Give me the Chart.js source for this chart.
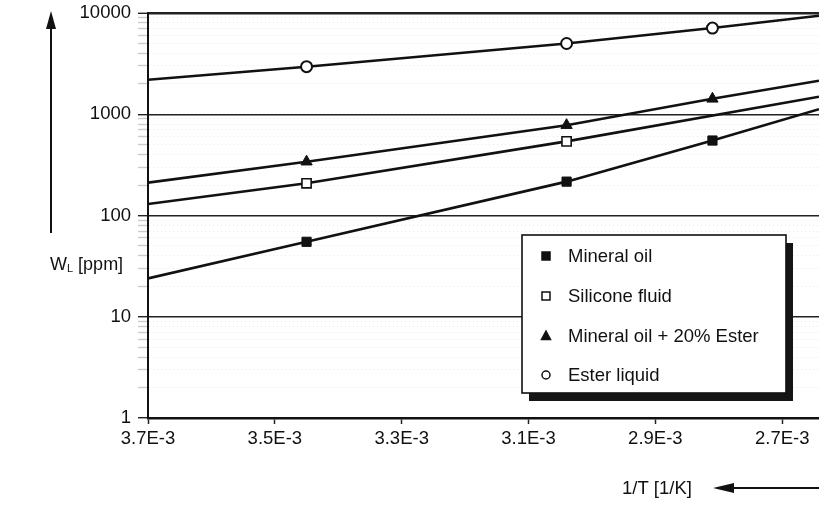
<!DOCTYPE html>
<html><head><meta charset="utf-8">
<script src="https://cdn.jsdelivr.net/npm/chart.js"></script>
<style>html,body{margin:0;padding:0;background:#fff}canvas{display:block}</style>
</head><body>
<canvas id="c" width="819" height="506"></canvas>
<script>
const seriesNames = ['Mineral oil', 'Silicone fluid', 'Mineral oil + 20% Ester', 'Ester liquid'];
const inverseTemp = [3.45e-3, 3.04e-3, 2.81e-3];
const mineralOil = [55, 216, 550];
const siliconeFluid = [208, 540, null];
const mineralOilEster = [340, 780, 1420];
const esterLiquid = [2950, 5000, 7100];
const curveInverseTemp = [3.7e-3, 3.45e-3, 3.04e-3, 2.81e-3, 2.642e-3];
const mineralOilCurve = [23.9, 55, 216, 550, 1120];
const siliconeFluidCurve = [130, 208, 540, null, 1490];
const mineralOilEsterCurve = [211, 340, 780, 1420, 2140];
const esterLiquidCurve = [2190, 2950, 5000, 7100, 9400];
const xTickValues = [3.7e-3, 3.5e-3, 3.3e-3, 3.1e-3, 2.9e-3, 2.7e-3];
const xTickLabels = ['3.7E-3', '3.5E-3', '3.3E-3', '3.1E-3', '2.9E-3', '2.7E-3'];
const yTickValues = [1, 10, 100, 1000, 10000];
const yTickLabels = ['1', '10', '100', '1000', '10000'];
const yAxisTitle = ['W', 'L', ' [ppm]'];
const xAxisTitle = '1/T [1/K]';

const FONT = '"Liberation Sans", Arial, sans-serif';
const INK = '#111';

function pts(xs, ys) {
  return xs.map((x, i) => ({x: x, y: ys[i]})).filter(p => p.y !== null);
}
function isDecade(v) {
  const l = Math.log10(v);
  return Math.abs(l - Math.round(l)) < 1e-9;
}
const yAllTicks = [];
yTickValues.forEach((d, i) => {
  yAllTicks.push(d);
  if (i < yTickValues.length - 1) for (let k = 2; k <= 9; k++) yAllTicks.push(k * d);
});

const markerStyles = [
  {pointStyle: 'rect', radius: 6.5, fill: INK, stroke: INK, bw: 1},
  {pointStyle: 'rect', radius: 6.5, fill: '#fff', stroke: INK, bw: 1.6},
  {pointStyle: 'triangle', radius: 6.5, fill: INK, stroke: INK, bw: 1},
  {pointStyle: 'circle', radius: 5.5, fill: '#fff', stroke: INK, bw: 2}
];
const markerData = [mineralOil, siliconeFluid, mineralOilEster, esterLiquid];
const curveData = [mineralOilCurve, siliconeFluidCurve, mineralOilEsterCurve, esterLiquidCurve];

const datasets = [];
markerData.forEach((ys, i) => {
  const s = markerStyles[i];
  datasets.push({
    label: seriesNames[i], data: pts(inverseTemp, ys), showLine: false,
    pointStyle: s.pointStyle, pointRadius: s.radius, pointBackgroundColor: s.fill,
    pointBorderColor: s.stroke, pointBorderWidth: s.bw, pointHoverRadius: s.radius
  });
});
curveData.forEach((ys, i) => {
  datasets.push({
    label: seriesNames[i] + ' curve', data: pts(curveInverseTemp, ys), showLine: true,
    borderColor: INK, borderWidth: 2.6, pointRadius: 0, fill: false, tension: 0
  });
});

const decor = {
  id: 'decor',
  afterDraw(chart) {
    const ctx = chart.ctx;
    ctx.save();
    // legend box with shadow
    const bx = 522, by = 235, bw = 264, bh = 158;
    ctx.fillStyle = '#151515';
    ctx.fillRect(bx + 7, by + 8, bw, bh);
    ctx.fillStyle = '#fff';
    ctx.fillRect(bx, by, bw, bh);
    ctx.strokeStyle = INK; ctx.lineWidth = 1.6;
    ctx.strokeRect(bx, by, bw, bh);
    const rows = [256, 296, 336, 375];
    ctx.font = '18.5px ' + FONT;
    ctx.textBaseline = 'middle';
    markerStyles.forEach((s, i) => {
      const mx = 546, my = rows[i];
      ctx.fillStyle = s.fill; ctx.strokeStyle = s.stroke; ctx.lineWidth = 1.5;
      ctx.beginPath();
      if (s.pointStyle === 'rect') { ctx.rect(mx - 4, my - 4, 8, 8); }
      else if (s.pointStyle === 'triangle') { ctx.moveTo(mx, my - 5); ctx.lineTo(mx + 4.5, my + 3.5); ctx.lineTo(mx - 4.5, my + 3.5); ctx.closePath(); }
      else { ctx.arc(mx, my, 4, 0, Math.PI * 2); }
      ctx.fill(); ctx.stroke();
      ctx.fillStyle = INK;
      ctx.fillText(seriesNames[i], 568, my + 1);
    });
    // y title
    ctx.textBaseline = 'alphabetic';
    ctx.fillStyle = INK;
    ctx.font = '18px ' + FONT;
    let x = 50;
    ctx.fillText(yAxisTitle[0], x, 270);
    x += ctx.measureText(yAxisTitle[0]).width;
    ctx.font = '11px ' + FONT;
    ctx.fillText(yAxisTitle[1], x, 272);
    x += ctx.measureText(yAxisTitle[1]).width;
    ctx.font = '18px ' + FONT;
    ctx.fillText(yAxisTitle[2], x, 270);
    // up arrow
    ctx.strokeStyle = INK; ctx.lineWidth = 2;
    ctx.beginPath(); ctx.moveTo(51, 233); ctx.lineTo(51, 26); ctx.stroke();
    ctx.beginPath(); ctx.moveTo(51, 11); ctx.lineTo(46, 29); ctx.lineTo(56, 29); ctx.closePath(); ctx.fill();
    // x title
    ctx.font = '18.5px ' + FONT;
    ctx.fillText(xAxisTitle, 622, 494);
    // left arrow
    ctx.beginPath(); ctx.moveTo(733, 488); ctx.lineTo(819, 488); ctx.stroke();
    ctx.beginPath(); ctx.moveTo(713, 488); ctx.lineTo(734, 483); ctx.lineTo(734, 493); ctx.closePath(); ctx.fill();
    ctx.restore();
  }
};

Chart.defaults.font.family = FONT;
Chart.defaults.font.size = 18.5;
Chart.defaults.color = INK;

new Chart(document.getElementById('c'), {
  type: 'scatter',
  data: {datasets: datasets},
  options: {
    responsive: false, animation: false, devicePixelRatio: 1,
    layout: {autoPadding: false, padding: {left: 0, right: 0, top: 13, bottom: 0}},
    plugins: {legend: {display: false}, tooltip: {enabled: false}},
    scales: {
      x: {
        type: 'linear', reverse: true, min: curveInverseTemp[curveInverseTemp.length - 1], max: curveInverseTemp[0],
        afterBuildTicks: s => { s.ticks = xTickValues.map(v => ({value: v})); },
        afterFit: s => { s.height = 88; s.paddingLeft = 0; s.paddingRight = 0; },
        ticks: {
          autoSkip: false, maxRotation: 0, padding: 4,
          callback: v => { const i = xTickValues.findIndex(t => Math.abs(t - v) < 1e-9); return i >= 0 ? xTickLabels[i] : ''; }
        },
        grid: {drawOnChartArea: false, tickLength: 6, tickColor: '#222', tickWidth: 1.5},
        border: {display: true, color: INK, width: 2.5}
      },
      y: {
        type: 'logarithmic', min: yTickValues[0], max: yTickValues[yTickValues.length - 1],
        afterBuildTicks: s => { s.ticks = yAllTicks.map(v => ({value: v, major: isDecade(v)})); },
        afterFit: s => { s.width = 148; s.paddingTop = 0; s.paddingBottom = 0; },
        ticks: {
          autoSkip: false, padding: 7,
          callback: v => { const i = yTickValues.findIndex(t => Math.abs(t - v) < 1e-9); return i >= 0 ? yTickLabels[i] : ''; }
        },
        grid: {
          color: c => (c.tick && !isDecade(c.tick.value)) ? 'rgba(0,0,0,0.09)' : '#222',
          lineWidth: c => (c.tick && c.tick.value === 10000) ? 2.6 : ((c.tick && !isDecade(c.tick.value)) ? 1 : 1.4),
          tickColor: c => (c.tick && !isDecade(c.tick.value)) ? 'rgba(0,0,0,0.2)' : '#222',
          tickLength: 10, tickWidth: 1.4
        },
        border: {
          display: true, color: INK, width: 2,
          dash: c => (c.tick && !isDecade(c.tick.value)) ? [1, 3] : []
        }
      }
    }
  },
  plugins: [decor]
});
</script>
</body></html>
